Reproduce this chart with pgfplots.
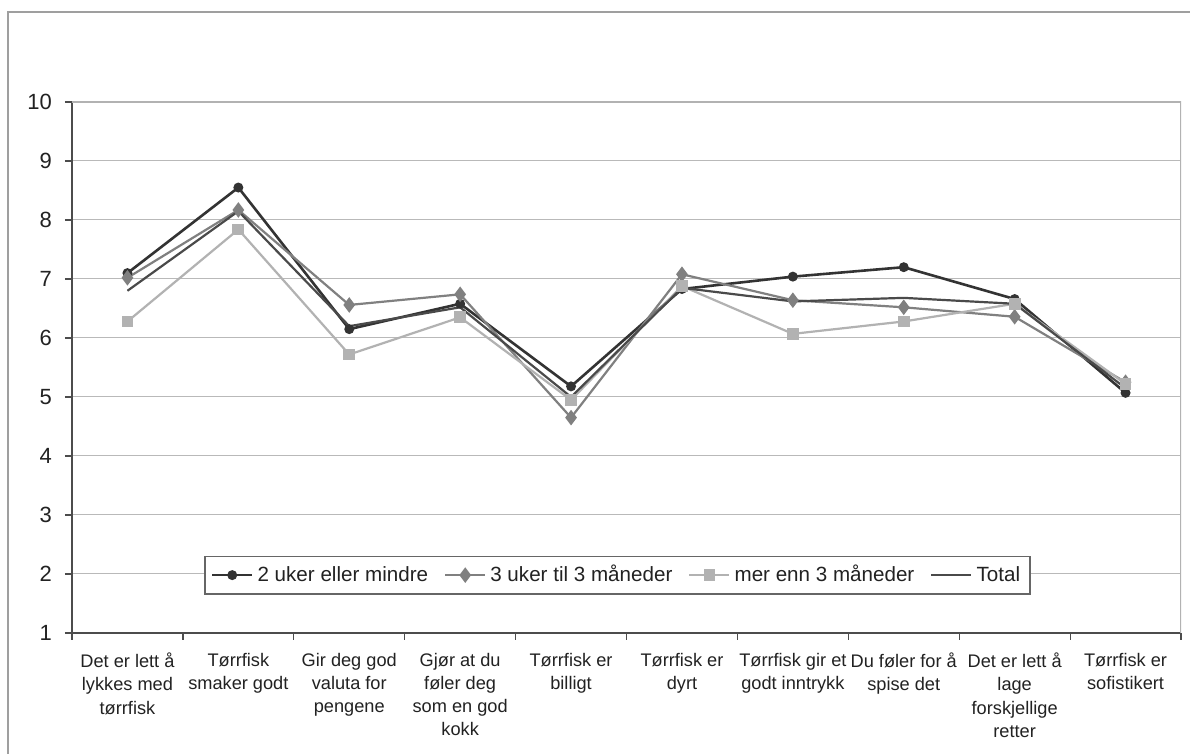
\documentclass[border=0pt]{standalone}
\usepackage{pgfplots}
\pgfplotsset{compat=1.18}
\usepackage{fontspec}
\setmainfont{Liberation Sans}
\definecolor{cA}{HTML}{333333}
\definecolor{cB}{HTML}{808080}
\definecolor{cC}{HTML}{B2B2B2}
\definecolor{cD}{HTML}{4A4A4A}
\definecolor{txt}{HTML}{222222}
\begin{document}
\begin{tikzpicture}
\useasboundingbox (0,0) rectangle (595pt,377pt);
\fill[white] (0,0) rectangle (595pt,377pt);
\draw[gray!75, line width=0.7pt] (4pt,-1pt) -- (4pt,371pt) -- (596pt,371pt);
\begin{axis}[
  at={(36pt,60.5pt)}, anchor=south west,
  scale only axis, width=554.5pt, height=265.5pt,
  xmin=-0.5, xmax=9.5, ymin=1, ymax=10,
  axis x line*=bottom, axis y line*=left,
  axis line style={draw=black!70, line width=0.7pt},
  tick align=outside, major tick length=3.5pt,
  tick style={draw=black!70, line width=0.6pt},
  ytick={1,...,10},
  ymajorgrids, grid style={gray!55, line width=0.5pt},
  /pgf/number format/assume math mode=true,
  yticklabel style={font=\fontsize{11}{13}\selectfont, text=txt, xshift=-3pt},
  xtick={-0.5,0.5,...,9.5}, xticklabels={{},{},{},{},{},{},{},{},{},{},{}},
  extra x ticks={0,1,2,3,4,5,6,7,8,9},
  extra x tick labels={{Det er lett å\\lykkes med\\tørrfisk},{Tørrfisk\\smaker godt},{Gir deg god\\valuta for\\pengene},{Gjør at du\\føler deg\\som en god\\kokk},{Tørrfisk er\\billigt},{Tørrfisk er\\dyrt},{Tørrfisk gir et\\godt inntrykk},{Du føler for å\\spise det},{Det er lett å\\lage\\forskjellige\\retter},{Tørrfisk er\\sofistikert}},
  extra x tick style={major tick length=0pt, tick label style={align=center, font=\fontsize{9.1}{11.6}\selectfont, text=txt, anchor=north, yshift=-6.5pt}},
  legend columns=4,
  legend style={at={(0.4919,0.109)}, anchor=center, draw=black!60, line width=0.6pt, fill=white,
    font=\fontsize{10.3}{12}\selectfont, text=txt, inner ysep=2.5pt, inner xsep=3pt,
    /tikz/every even column/.append style={column sep=6pt}},
  legend image code/.code={\draw[mark repeat=2,mark phase=2] plot coordinates {(0pt,0pt) (10pt,0pt) (20pt,0pt)};},
  legend cell align=left,
]
\addplot[cA, line width=1.3pt, mark=*, mark size=1.8pt, mark options={fill=cA, draw=cA}]
  coordinates {(0,7.10) (1,8.55) (2,6.15) (3,6.58) (4,5.18) (5,6.83) (6,7.04) (7,7.20) (8,6.66) (9,5.07)};
\addlegendentry{2 uker eller mindre}
\addplot[cB, line width=1.1pt, mark=diamond*, mark size=3pt, mark options={fill=cB, draw=cB}]
  coordinates {(0,7.02) (1,8.17) (2,6.56) (3,6.74) (4,4.65) (5,7.08) (6,6.64) (7,6.52) (8,6.36) (9,5.25)};
\addlegendentry{3 uker til 3 måneder}
\addplot[cC, line width=1.1pt, mark=square*, mark size=2.4pt, mark options={fill=cC, draw=cC}]
  coordinates {(0,6.28) (1,7.84) (2,5.72) (3,6.35) (4,4.95) (5,6.88) (6,6.07) (7,6.28) (8,6.58) (9,5.22)};
\addlegendentry{mer enn 3 måneder}
\addplot[cD, line width=1.1pt, mark=none]
  coordinates {(0,6.80) (1,8.15) (2,6.20) (3,6.52) (4,5.00) (5,6.85) (6,6.62) (7,6.68) (8,6.58) (9,5.15)};
\addlegendentry{Total}
\draw[gray!60, line width=0.6pt] (rel axis cs:0,1) -- (rel axis cs:1,1) -- (rel axis cs:1,0);
\end{axis}
\end{tikzpicture}
\end{document}
